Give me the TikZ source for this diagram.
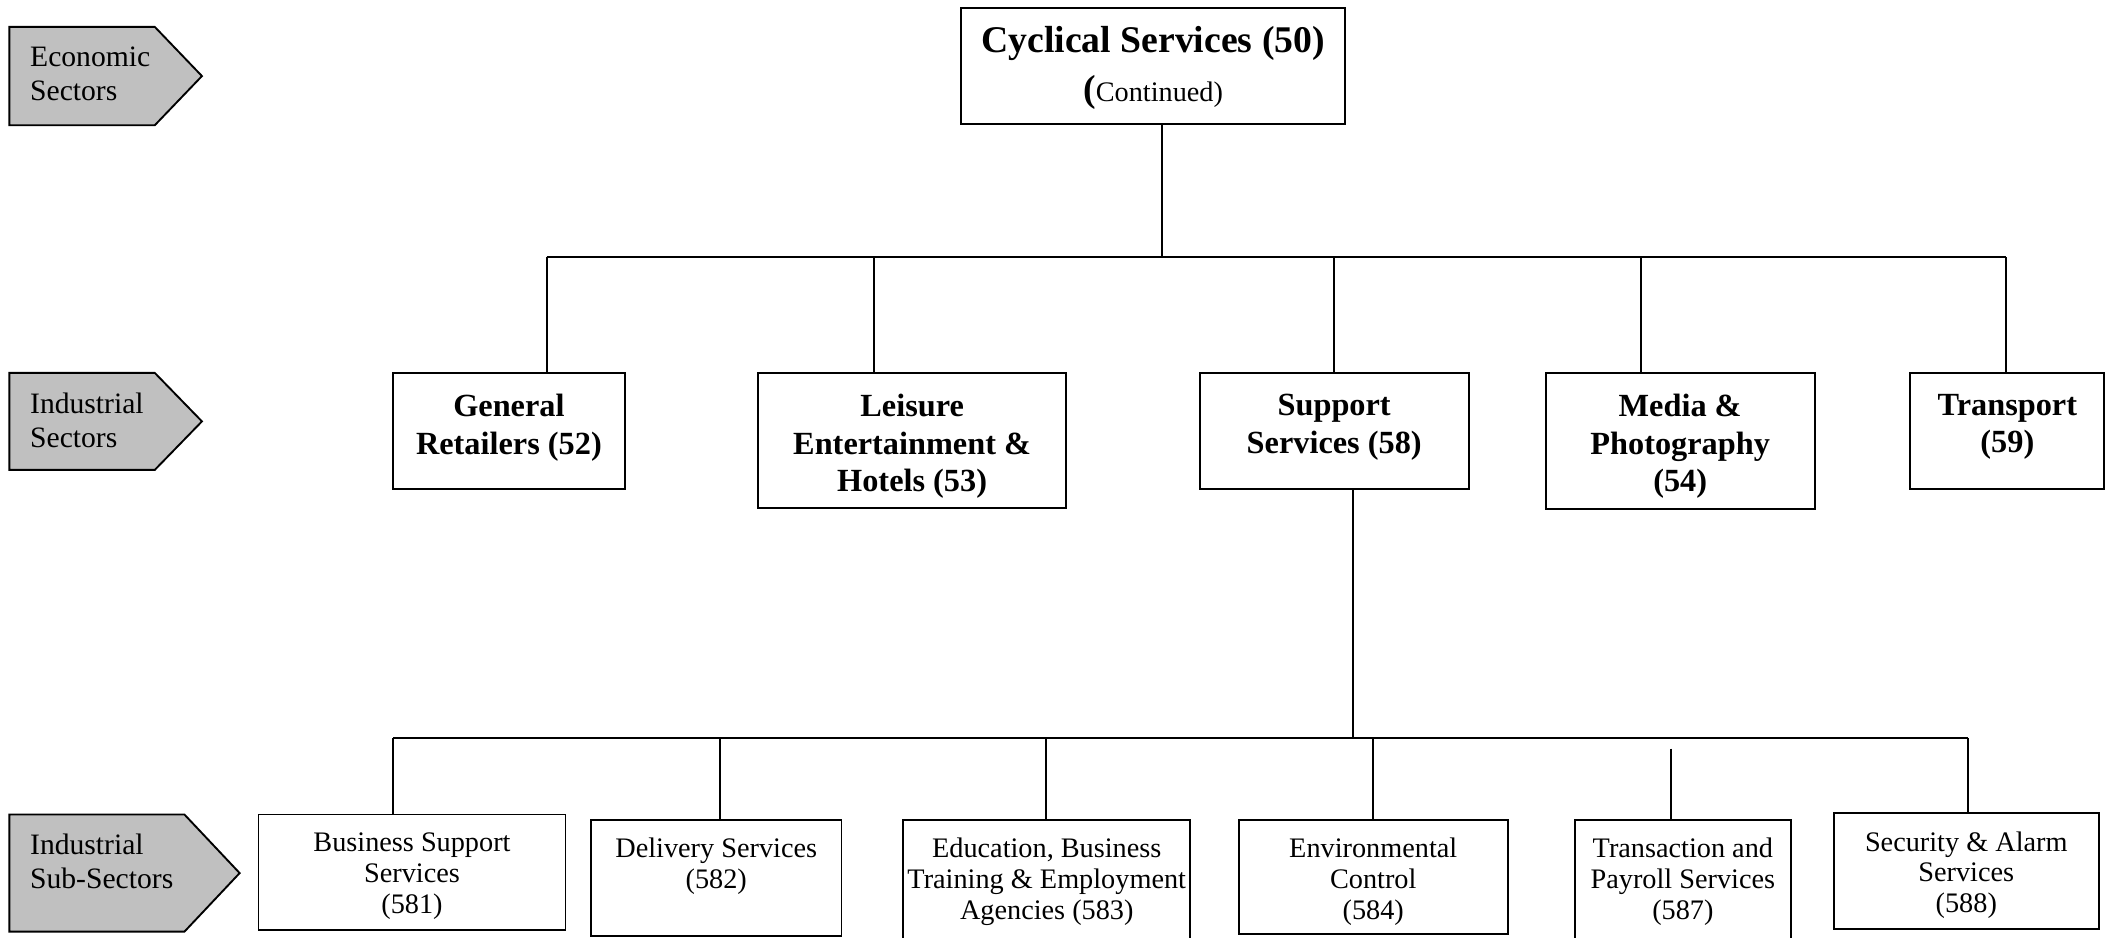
\documentclass[tikz,border=0pt]{standalone}
\usepackage{fontspec}
\setmainfont{Liberation Serif}
\newcommand\bx[6]{\node[box, minimum width={(#5-#3)*0.5pt}, minimum height={(#6-#4)*0.5pt}] (#2) at ({(#3+#5)/2},{(#4+#6)/2}) {};}
\begin{document}
\begin{tikzpicture}[x=0.5pt,y=-0.5pt,
  box/.style={draw, line width=0.7pt, inner sep=0pt, fill=white},
  tag/.style={draw, line width=0.7pt, fill=tagfill},
  link/.style={line width=0.7pt},
  tagtext/.style={anchor=west, inner sep=0pt, align=left, font=\fontsize{11}{12.5}\selectfont},
  boldtext/.style={anchor=north, inner sep=0pt, align=center, font=\fontsize{12}{14}\selectfont\bfseries},
  subtext/.style={anchor=north, inner sep=0pt, align=center, font=\fontsize{10.5}{11.4}\selectfont}]
\definecolor{tagfill}{HTML}{C0C0C0}
\useasboundingbox (0,0) rectangle (1568,696);
\clip (0,0) rectangle (1568,696);

% side tags
\draw[tag] (7,20) -- (115,20) -- (150,56.5) -- (115,93) -- (7,93) -- cycle;
\node[tagtext] (t1) at (22,55) {Economic\\Sectors};
\draw[tag] (7,277) -- (115,277) -- (150,313) -- (115,349) -- (7,349) -- cycle;
\node[tagtext] (t2) at (22,312) {Industrial\\Sectors};
\draw[tag] (7,605) -- (137,605) -- (178,648.5) -- (137,692) -- (7,692) -- cycle;
\node[tagtext] (t3) at (22,640) {Industrial\\Sub-Sectors};

% boxes
\bx{box}{cs}{714}{6}{999}{92}
\bx{box}{gr}{292}{277}{464}{363}
\bx{box}{le}{563}{277}{792}{377}
\bx{box}{su}{891}{277}{1091}{363}
\bx{box}{me}{1148}{277}{1348}{378}
\bx{box}{tr}{1419}{277}{1563}{363}
\bx{box}{sa}{192}{605}{420}{691}
\bx{box}{sb}{439}{609}{625}{695}
\bx{box}{sc}{671}{609}{884}{702}
\bx{box}{sd}{920}{609}{1120}{694}
\bx{box}{se}{1170}{609}{1330}{702}
\bx{box}{sf}{1362}{604}{1559}{690}

% texts
\node[anchor=north, inner sep=0pt, align=center, font=\fontsize{14}{18}\selectfont] (cs-t) at ([yshift=-7pt]cs.north)
  {\bfseries Cyclical Services (50)\\{\bfseries(}{\fontsize{10.5}{18}\selectfont Continued)}};
\node[boldtext] (gr-t) at ([yshift=-8pt]gr.north) {General\\Retailers (52)};
\node[boldtext] (le-t) at ([yshift=-8pt]le.north) {Leisure\\Entertainment \&\\Hotels (53)};
\node[boldtext] (su-t) at ([yshift=-8pt]su.north) {Support\\Services (58)};
\node[boldtext] (me-t) at ([yshift=-8pt]me.north) {Media \&\\Photography\\(54)};
\node[boldtext] (tr-t) at ([yshift=-8pt]tr.north) {Transport\\(59)};
\node[subtext] (sa-t) at ([yshift=-7pt]sa.north) {Business Support\\Services\\(581)};
\node[subtext] (sb-t) at ([yshift=-7pt]sb.north) {Delivery Services\\(582)};
\node[subtext] (sc-t) at ([yshift=-7pt]sc.north) {Education, Business\\Training \& Employment\\Agencies (583)};
\node[subtext] (sd-t) at ([yshift=-7pt]sd.north) {Environmental\\Control\\(584)};
\node[subtext] (se-t) at ([yshift=-7pt]se.north) {Transaction and\\Payroll Services\\(587)};
\node[subtext] (sf-t) at ([yshift=-7pt]sf.north) {Security \& Alarm\\Services\\(588)};

% connectors level 1
\coordinate (c0) at (863,191);
\coordinate (d1) at (406,191);
\coordinate (d2) at (649,191);
\coordinate (d3) at (991,191);
\coordinate (d4) at (1219,191);
\coordinate (d5) at (1490,191);
\draw[link] (c0 |- cs.south) -- (c0);
\draw[link] (d1) -- (d5);
\draw[link] (d1) -- (d1 |- gr.north);
\draw[link] (d2) -- (d2 |- le.north);
\draw[link] (d3) -- (d3 |- su.north);
\draw[link] (d4) -- (d4 |- me.north);
\draw[link] (d5) -- (d5 |- tr.north);

% connectors level 2
\coordinate (c1) at (1005,548);
\coordinate (e1) at (292,548);
\coordinate (e2) at (535,548);
\coordinate (e3) at (777,548);
\coordinate (e4) at (1020,548);
\coordinate (e5) at (1241,556);
\coordinate (e6) at (1462,548);
\draw[link] (c1 |- su.south) -- (c1);
\draw[link] (e1) -- (e6);
\draw[link] (e1) -- (e1 |- sa.north);
\draw[link] (e2) -- (e2 |- sb.north);
\draw[link] (e3) -- (e3 |- sc.north);
\draw[link] (e4) -- (e4 |- sd.north);
\draw[link] (e5) -- (e5 |- se.north);
\draw[link] (e6) -- (e6 |- sf.north);
\end{tikzpicture}
\end{document}
